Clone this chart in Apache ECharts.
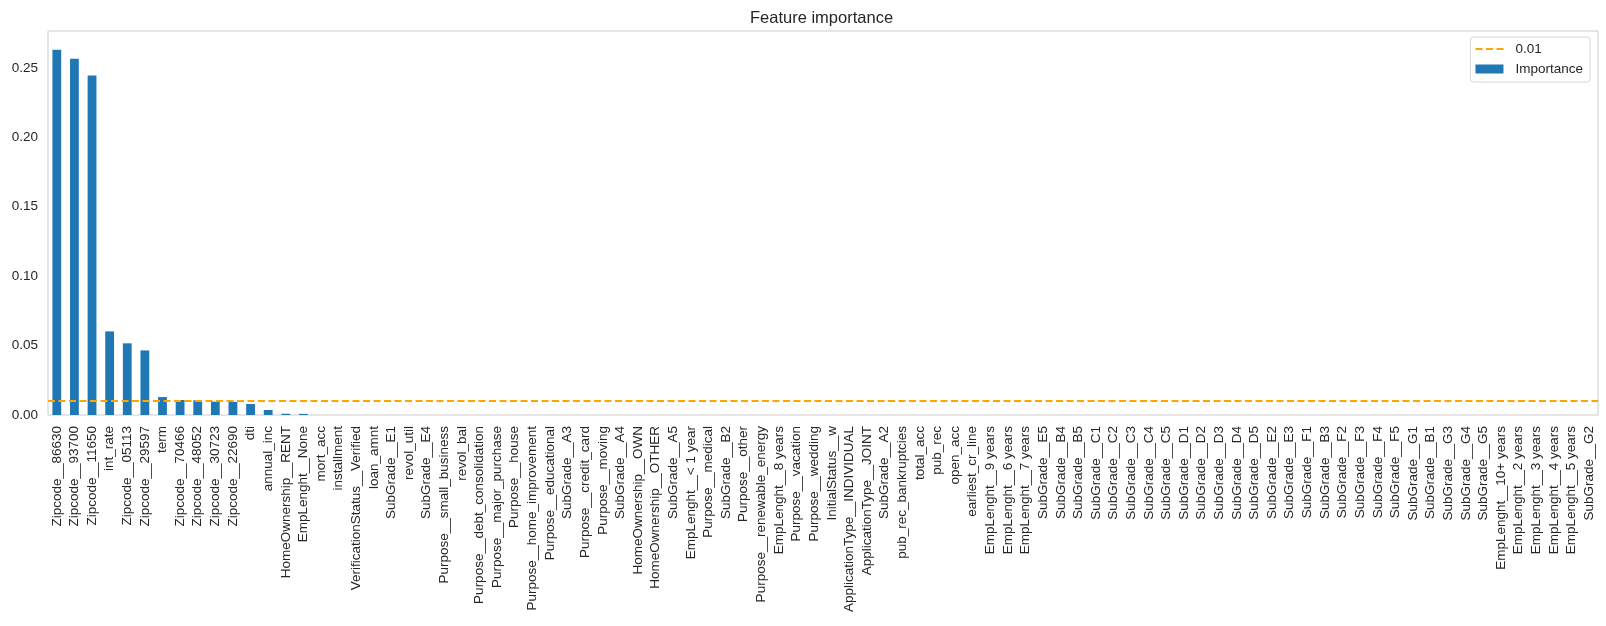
<!DOCTYPE html>
<html>
<head>
	<meta charset="utf-8">
	<title>Feature importance</title>
	<script src="https://cdn.jsdelivr.net/npm/echarts@6/dist/echarts.min.js"></script>
	<style type="text/css">
		html, body {
			margin: 0;
			padding: 0;
			background: #fff;
		}
		#chart {
			width: 1606px;
			height: 626px;
		}
	</style>
</head>
<body>
	<div id="chart"></div>
	<script type="text/javascript">
		var features = [
			'Zipcode__86630', 'Zipcode__93700', 'Zipcode__11650', 'int_rate', 'Zipcode__05113',
			'Zipcode__29597', 'term', 'Zipcode__70466', 'Zipcode__48052', 'Zipcode__30723',
			'Zipcode__22690', 'dti', 'annual_inc', 'HomeOwnership__RENT', 'EmpLenght__None',
			'mort_acc', 'installment', 'VerificationStatus__Verified', 'loan_amnt', 'SubGrade__E1',
			'revol_util', 'SubGrade__E4', 'Purpose__small_business', 'revol_bal', 'Purpose__debt_consolidation',
			'Purpose__major_purchase', 'Purpose__house', 'Purpose__home_improvement', 'Purpose__educational', 'SubGrade__A3',
			'Purpose__credit_card', 'Purpose__moving', 'SubGrade__A4', 'HomeOwnership__OWN', 'HomeOwnership__OTHER',
			'SubGrade__A5', 'EmpLenght__< 1 year', 'Purpose__medical', 'SubGrade__B2', 'Purpose__other',
			'Purpose__renewable_energy', 'EmpLenght__8 years', 'Purpose__vacation', 'Purpose__wedding', 'InitialStatus__w',
			'ApplicationType__INDIVIDUAL', 'ApplicationType__JOINT', 'SubGrade__A2', 'pub_rec_bankruptcies', 'total_acc',
			'pub_rec', 'open_acc', 'earliest_cr_line', 'EmpLenght__9 years', 'EmpLenght__6 years',
			'EmpLenght__7 years', 'SubGrade__E5', 'SubGrade__B4', 'SubGrade__B5', 'SubGrade__C1',
			'SubGrade__C2', 'SubGrade__C3', 'SubGrade__C4', 'SubGrade__C5', 'SubGrade__D1',
			'SubGrade__D2', 'SubGrade__D3', 'SubGrade__D4', 'SubGrade__D5', 'SubGrade__E2',
			'SubGrade__E3', 'SubGrade__F1', 'SubGrade__B3', 'SubGrade__F2', 'SubGrade__F3',
			'SubGrade__F4', 'SubGrade__F5', 'SubGrade__G1', 'SubGrade__B1', 'SubGrade__G3',
			'SubGrade__G4', 'SubGrade__G5', 'EmpLenght__10+ years', 'EmpLenght__2 years', 'EmpLenght__3 years',
			'EmpLenght__4 years', 'EmpLenght__5 years', 'SubGrade__G2'
		];

		// values; everything after EmpLenght__None is ~0
		var importance = [
			0.263, 0.2566, 0.2444, 0.0602, 0.0516,
			0.0465, 0.0129, 0.0108, 0.0106, 0.0096,
			0.0095, 0.0079, 0.0036, 0.0009, 0.0008,
			0, 0, 0, 0, 0,
			0, 0, 0, 0, 0,
			0, 0, 0, 0, 0,
			0, 0, 0, 0, 0,
			0, 0, 0, 0, 0,
			0, 0, 0, 0, 0,
			0, 0, 0, 0, 0,
			0, 0, 0, 0, 0,
			0, 0, 0, 0, 0,
			0, 0, 0, 0, 0,
			0, 0, 0, 0, 0,
			0, 0, 0, 0, 0,
			0, 0, 0, 0, 0,
			0, 0, 0, 0, 0,
			0, 0, 0
		];

		var threshold = 0.01;
		var yTicks = [0, 0.05, 0.10, 0.15, 0.20, 0.25];

		var chart = echarts.init(document.getElementById('chart'));
		var option = {
			animation: false,
			textStyle: {
				fontFamily: 'Liberation Sans, Arial, sans-serif'
			},
			title: {
				text: 'Feature importance',
				left: 745,
				top: 5,
				textStyle: {
					fontSize: 16.5,
					fontWeight: 'normal',
					color: '#262626'
				}
			},
			legend: {
				orient: 'vertical',
				right: 16,
				top: 37,
				align: 'left',
				itemWidth: 28,
				itemHeight: 9,
				itemGap: 6,
				padding: [5, 7, 6, 4],
				borderColor: '#d6d6d6',
				borderWidth: 1,
				borderRadius: 3,
				textStyle: {
					fontSize: 13.5,
					color: '#262626',
					padding: [0, 0, 0, 7]
				},
				data: [
					{ name: String(threshold), itemStyle: { opacity: 0 } },
					{ name: 'Importance', icon: 'rect' }
				]
			},
			grid: {
				left: 48,
				right: 8,
				top: 31,
				bottom: 211,
				show: true,
				borderColor: '#cccccc',
				borderWidth: 1,
				containLabel: false
			},
			xAxis: {
				type: 'category',
				data: features,
				axisLine: { show: false },
				axisTick: { show: false },
				axisLabel: {
					interval: 0,
					rotate: 90,
					margin: 11,
					fontSize: 13.5,
					color: '#262626'
				}
			},
			yAxis: {
				type: 'value',
				min: 0,
				max: 0.2765,
				interval: 0.05,
				splitLine: { show: false },
				axisLine: { show: false },
				axisTick: { show: false },
				axisLabel: {
					margin: 10,
					fontSize: 13.5,
					color: '#262626',
					showMaxLabel: false,
					formatter: function (v) {
						var hit = yTicks.filter(function (t) { return Math.abs(t - v) < 1e-9; });
						return hit.length ? hit[0].toFixed(2) : '';
					}
				}
			},
			series: [
				{
					name: String(threshold),
					type: 'line',
					data: [],
					symbol: 'none',
					lineStyle: { color: '#ffa500', type: [7, 3.5], width: 2 },
					itemStyle: { color: '#ffa500' },
					markLine: {
						silent: true,
						symbol: 'none',
						label: { show: false },
						lineStyle: { color: '#ffa500', type: [7, 3.5], width: 2 },
						data: [{ yAxis: threshold }]
					},
					z: 3
				},
				{
					name: 'Importance',
					type: 'bar',
					data: importance,
					barWidth: '50%',
					itemStyle: {
						color: '#1f77b4'
					},
					z: 2
				}
			]
		};
		chart.setOption(option);
	</script>
</body>
</html>
